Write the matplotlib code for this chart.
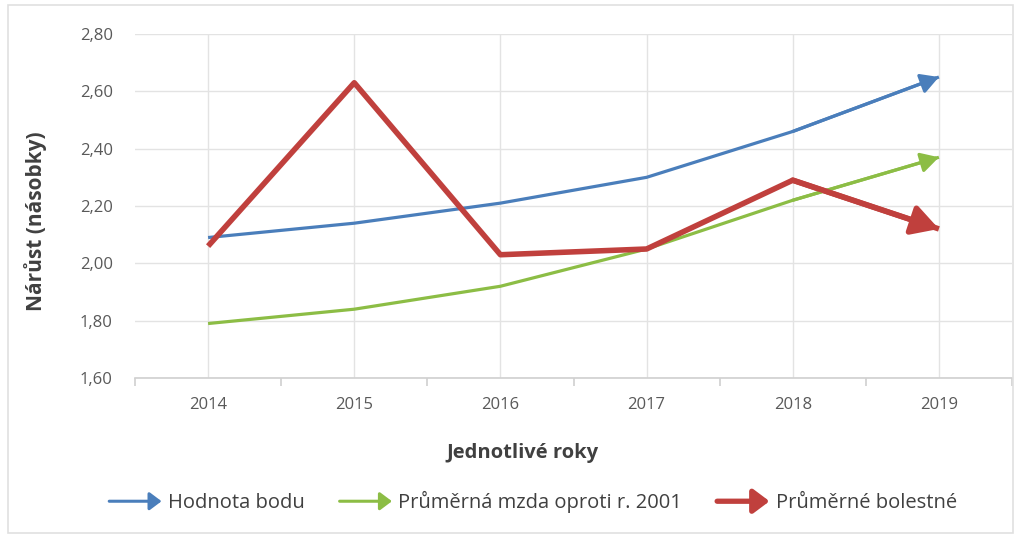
import matplotlib.pyplot as plt
from matplotlib.patches import FancyArrowPatch, Rectangle
from matplotlib.legend_handler import HandlerBase
from matplotlib.ticker import FuncFormatter, FixedLocator

plt.rcParams['font.family'] = ['Open Sans', 'DejaVu Sans']

# data
years = ['2014', '2015', '2016', '2017', '2018', '2019']
hodnota_bodu = [2.09, 2.14, 2.21, 2.30, 2.46, 2.65]
prumerna_mzda = [1.79, 1.84, 1.92, 2.05, 2.22, 2.37]
bolestne = [2.06, 2.63, 2.03, 2.05, 2.29, 2.12]

# label, values, colour, line width, arrow head, head scale, legend lw, legend head scale
series = [
    ('Hodnota bodu', hodnota_bodu, '#4a7ebb', 2.3, 'head_length=0.9,head_width=0.5', 12, 2.2, 1.8),
    ('Průměrná mzda oproti r. 2001', prumerna_mzda, '#8cbd45', 2.3, 'head_length=0.9,head_width=0.5', 12, 2.2, 1.8),
    ('Průměrné bolestné', bolestne, '#c0403d', 4.0, 'head_length=0.8,head_width=0.45', 20, 3.8, 2.4),
]


class ArrowHandler(HandlerBase):
    def __init__(self, color, lw, scale):
        super().__init__()
        self.color = color
        self.lw = lw
        self.scale = scale

    def create_artists(self, legend, orig_handle, xdescent, ydescent, width, height, fontsize, trans):
        y = height / 2 - ydescent
        a = FancyArrowPatch((-xdescent, y), (-xdescent + width, y),
                            arrowstyle='-|>,head_length=4,head_width=3',
                            mutation_scale=self.scale, lw=self.lw, color=self.color,
                            shrinkA=0, shrinkB=0, transform=trans)
        return [a]


fig = plt.figure(figsize=(10.19, 5.36), dpi=100)
ax = fig.add_axes([135 / 1019, 1 - 378 / 536, (1012 - 135) / 1019, (378 - 34) / 536])

x = list(range(len(years)))
handles = []
handler_map = {}
for label, vals, color, lw, head, hscale, leg_lw, leg_scale in series:
    line, = ax.plot(x, vals, color=color, lw=lw, solid_capstyle='butt', label=label)
    ax.annotate('', xy=(x[-1], vals[-1]), xytext=(x[-2], vals[-2]),
                arrowprops=dict(arrowstyle='-|>,' + head, color=color, lw=lw,
                                shrinkA=0, shrinkB=0, mutation_scale=hscale))
    handles.append(line)
    handler_map[line] = ArrowHandler(color, leg_lw, leg_scale)

ax.set_xlim(-0.5, len(years) - 0.5)
ax.set_ylim(1.6, 2.8)
ax.set_yticks([1.6, 1.8, 2.0, 2.2, 2.4, 2.6, 2.8])
ax.yaxis.set_major_formatter(FuncFormatter(lambda v, p: f'{v:.2f}'.replace('.', ',')))
ax.set_xticks(x)
ax.set_xticklabels(years)
ax.xaxis.set_minor_locator(FixedLocator([i - 0.5 for i in range(len(years) + 1)]))

ax.grid(True, which='major', axis='both', color='#e3e3e3', lw=1.0)
ax.set_axisbelow(True)
for s in ['top', 'right', 'left']:
    ax.spines[s].set_visible(False)
ax.spines['bottom'].set_color('#d0d0d0')
ax.spines['bottom'].set_linewidth(1.2)
ax.tick_params(axis='x', which='major', length=0, pad=14, labelsize=12, labelcolor='#595959')
ax.tick_params(axis='x', which='minor', length=6, color='#d0d0d0', width=1.2)
ax.tick_params(axis='y', length=0, pad=16, labelsize=12, labelcolor='#595959')

ax.set_xlabel('Jednotlivé roky', fontsize=14.5, fontweight='bold', color='#404040')
ax.xaxis.set_label_coords(0.442, -0.19)
ax.set_ylabel('Nárůst (násobky)', fontsize=15, fontweight='bold', color='#404040')
ax.yaxis.set_label_coords(-0.100, 0.456)

fig.legend(handles=handles, handler_map=handler_map, loc='center', bbox_to_anchor=(0.523, 0.063),
           ncol=3, frameon=False, fontsize=14.5, handlelength=2.6, handletextpad=0.3,
           columnspacing=1.75, labelcolor='#404040')

fig.patches.append(Rectangle((8 / 1019, 0.005), 1005 / 1019, 0.985, transform=fig.transFigure,
                             fill=False, edgecolor='#e0e0e0', lw=1.2))

plt.savefig('out.png', dpi=100)
